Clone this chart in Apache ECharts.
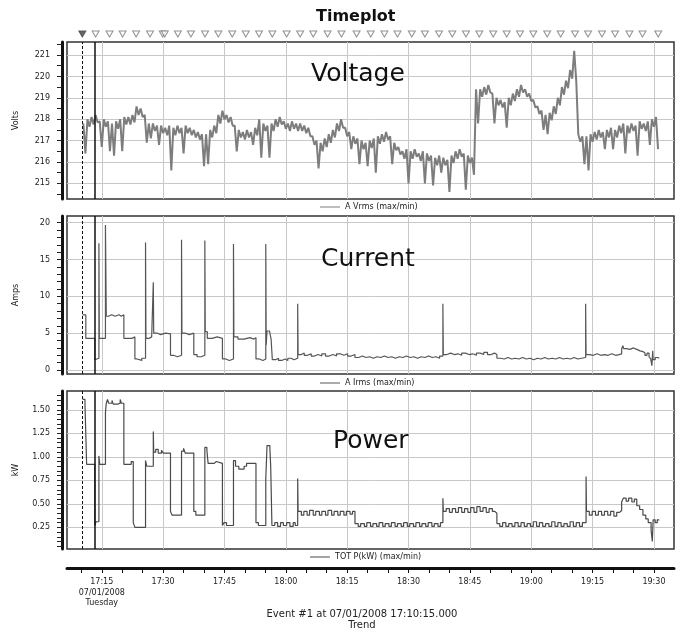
<!DOCTYPE html>
<html>
<head>
<meta charset="utf-8">
<title>Timeplot</title>
<script src="https://cdn.jsdelivr.net/npm/echarts@6.0.0/dist/echarts.min.js"></script>
<style>
html, body { margin: 0; padding: 0; background: #fff; }
#chart { width: 680px; height: 635px; }
</style>
</head>
<body>
<div id="chart"></div>
<script>
// time is in minutes after 17:00
var X_RANGE = [6.5, 154.9];
var X_MINOR = [10,15,20,25,30,35,40,45,50,55,60,65,70,75,80,85,90,95,100,105,110,115,120,125,130,135,140,145,150];
var X_MAJOR = [15,30,45,60,75,90,105,120,135,150];
var X_LABELS = ['17:15\n07/01/2008\nTuesday','17:30','17:45','18:00','18:15','18:30','18:45','19:00','19:15','19:30'];

var VOLT_RANGE = [214.27, 221.61];
var VOLT_MINOR = [214.5,215,215.5,216,216.5,217,217.5,218,218.5,219,219.5,220,220.5,221,221.5];
var VOLT_MAJOR = [215,216,217,218,219,220,221];
var AMP_RANGE = [-0.54, 20.91];
var AMP_MINOR = [0,1,2,3,4,5,6,7,8,9,10,11,12,13,14,15,16,17,18,19,20];
var AMP_MAJOR = [0,5,10,15,20];
var KW_RANGE = [0.02, 1.70];
var KW_MINOR = [0.05,0.1,0.15,0.2,0.25,0.3,0.35,0.4,0.45,0.5,0.55,0.6,0.65,0.7,0.75,0.8,0.85,0.9,0.95,1,1.05,1.1,1.15,1.2,1.25,1.3,1.35,1.4,1.45,1.5,1.55,1.6,1.65];
var KW_MAJOR = [0.25,0.5,0.75,1,1.25,1.5];

// event marker (dashed) and cursor (solid)
var CURSORS = [10.25, 13.2];
// event triangles above the first panel
var MARKS = [10.25,13.5,16.9,20.1,23.4,26.8,29.9,30.4,33.6,36.8,40.25,43.5,46.9,50.2,53.45,56.7,60.2,63.5,66.7,70.2,73.6,77.3,80.75,84.1,87.3,90.8,94.0,97.45,100.7,104.05,107.3,110.7,114.0,117.25,120.5,123.9,127.2,130.7,133.9,137.3,140.5,144.0,147.2,151.05];

// voltage max / min per minute, starting at 10.5
var VOLT_T0 = 10.5;
var voltHi = [
217.8,218.0,218.1,218.2,217.9,218.0,217.9,217.8,217.9,218.0,
218.1,218.1,218.2,218.6,218.5,218.2,217.8,217.8,217.7,217.7,
217.6,217.7,217.6,217.7,217.6,217.7,217.6,217.5,217.4,217.3,
217.3,217.5,217.7,218.2,218.4,218.2,218.1,217.7,217.5,217.4,
217.5,217.4,217.6,218.0,217.8,217.7,217.8,218.0,218.1,217.9,
217.8,217.9,217.8,217.8,217.7,217.6,217.2,217.0,216.9,217.1,
217.3,217.5,217.8,218.0,217.6,217.4,217.2,217.1,217.0,216.9,
217.0,217.1,217.2,217.3,217.4,217.2,216.9,216.7,216.5,216.6,
216.5,216.6,216.4,216.5,216.4,216.3,216.2,216.3,216.2,216.1,
216.3,216.5,216.6,216.4,216.3,216.2,219.4,219.4,219.5,219.6,
219.2,219.0,218.9,218.8,219.0,219.2,219.4,219.6,219.4,219.2,
218.9,218.6,218.4,218.2,218.3,218.6,219.0,219.5,219.8,220.3,
221.2,217.3,217.2,217.2,217.3,217.4,217.5,217.4,217.5,217.6,
217.5,217.7,217.8,217.7,217.8,217.7,217.9,217.8,217.9,218.0,
218.1];
var voltLo = [
216.4,217.65,217.75,217.85,216.7,217.65,216.5,216.3,217.55,216.5,
217.75,217.75,217.85,218.2,218.1,216.9,217.1,217.45,216.8,217.35,
217.25,215.6,217.25,217.35,216.4,217.35,217.25,217.15,217.05,215.8,
215.9,217.15,217.35,217.8,218.0,217.85,217.7,216.5,217.15,217.05,
217.15,216.8,217.25,216.2,217.45,216.2,217.45,217.65,217.75,217.55,
217.45,217.55,217.45,217.45,217.35,217.2,216.8,215.7,216.5,216.7,
216.9,217.15,217.45,217.6,217.2,216.6,216.85,215.9,216.6,215.8,
216.65,215.5,216.85,216.95,217.05,215.9,216.55,216.35,216.15,215.0,
216.15,216.25,216.05,215.0,216.05,214.9,215.85,215.5,215.85,214.6,
215.95,216.15,216.25,214.7,215.95,215.4,217.8,219.05,219.15,219.25,
217.8,218.65,218.55,217.6,218.65,218.85,219.05,219.25,219.05,218.85,
218.55,218.25,217.5,217.3,217.95,218.25,218.65,219.15,219.45,219.9,
219.8,216.95,215.9,215.6,216.95,217.05,217.15,216.6,217.15,216.6,
217.15,217.35,216.4,217.35,217.45,216.3,217.55,217.45,216.8,217.65,
216.6];

// current, [minute, amps], each value held until the next point
var currData = [
[10.3,7.5],[11.1,4.3],[13.3,1.4],[13.7,1.6],[14.3,17.2],[14.4,4.3],[15.9,19.7],[16.1,7.3],[16.6,7.5],[17.4,7.3],[18.3,7.5],[19.2,7.3],[19.8,7.5],
[20.4,4.3],[22.4,4.5],[23.1,1.5],[23.6,1.3],[24.8,1.6],
[25.7,17.3],[25.8,4.3],[26.6,4.5],[27.2,4.3],
[27.6,11.9],[27.7,5.0],[28.6,4.8],[29.4,5.0],[30.6,4.9],
[31.8,2.0],[32.5,1.8],[33.5,2.0],
[34.5,17.7],[34.6,5.0],[35.5,4.8],[36.4,5.0],
[37.5,2.1],[38.3,1.8],[39.3,2.0],
[40.2,17.6],[40.3,5.2],[40.8,4.3],[42.0,4.5],[43.2,4.3],
[44.5,1.5],[45.3,1.3],[46.2,1.5],
[47.2,17.1],[47.3,4.5],[48.3,4.2],[49.8,4.4],[51.2,4.2],[52.2,4.4],
[52.7,1.5],[53.5,1.3],[54.4,1.5],
[55.1,17.1],[55.2,3.4],[55.4,5.3],[56.0,5.1],[56.4,4.2],
[56.7,1.4],[57.5,1.6],[58.2,1.3],[59.0,1.5],[59.8,1.3],[60.5,1.6],[61.3,1.4],[62.0,1.3],[62.4,1.6],
[62.9,9.0],[63.0,2.1],[63.8,2.3],[64.5,2.0],[65.3,2.2],[66.2,1.9],[67.0,2.1],[67.9,1.9],[68.8,2.2],[69.7,1.9],[70.6,2.1],[71.5,1.9],[72.4,2.2],[73.3,2.0],[74.2,2.2],[75.1,1.9],[76.0,2.1],
[76.9,1.7],[77.8,1.9],[78.7,1.7],[79.6,1.8],[80.5,1.6],[81.4,1.8],[82.3,1.7],[83.2,1.9],[84.1,1.7],[85.0,1.8],[85.9,1.6],[86.8,1.8],[87.7,1.7],[88.6,1.9],[89.5,1.7],[90.4,1.8],[91.3,1.6],[92.2,1.8],[93.1,1.7],[94.0,1.9],[94.9,1.7],[95.8,1.8],[96.7,1.6],[97.6,1.9],
[98.4,9.0],[98.5,2.1],[99.4,2.3],[100.3,2.1],[101.2,2.2],[102.1,2.0],[103.0,2.3],[103.9,2.1],[104.8,2.2],[105.7,2.0],[106.6,2.3],[107.5,2.1],[108.4,2.4],[109.3,2.1],[110.2,2.3],[111.0,2.1],
[111.6,1.6],[112.5,1.5],[113.4,1.7],[114.3,1.5],[115.2,1.6],[116.1,1.5],[117.0,1.7],[117.9,1.5],[118.8,1.6],[119.7,1.4],[120.6,1.6],[121.5,1.5],[122.4,1.7],[123.3,1.5],[124.2,1.6],[125.1,1.5],[126.0,1.7],[126.9,1.5],[127.8,1.6],[128.7,1.5],[129.6,1.7],[130.5,1.5],[131.4,1.6],[132.3,1.7],
[133.3,9.0],[133.4,2.1],[134.3,2.0],[135.2,2.2],[136.1,2.0],[137.0,2.1],[137.9,2.0],[138.8,2.2],[139.7,2.0],[140.6,2.1],[141.5,2.2],
[142.1,2.9],[142.4,3.3],[142.6,2.9],[143.3,2.8],[144.1,3.0],[145.0,2.8],[145.8,2.6],[146.6,2.5],[147.3,2.3],[147.8,2.0],[148.3,2.3],[148.8,1.8],[149.2,1.5],[149.5,0.6],[149.7,2.6],[149.8,1.4],[150.3,1.7],[150.9,1.6],[151.3,1.7]
];

// power, [minute, kW], each value held until the next point
var powData = [
[10.3,1.61],[10.9,1.55],[11.3,0.92],[13.3,0.27],[13.6,0.31],[14.3,1.01],[14.5,0.92],
[15.9,1.47],[16.1,1.57],[16.4,1.61],[16.7,1.57],[17.5,1.60],[17.8,1.56],[18.9,1.57],[19.5,1.61],[19.8,1.57],
[20.4,0.92],[22.2,0.95],[22.7,0.30],[23.1,0.25],
[25.7,0.96],[26.0,0.90],
[27.6,1.27],[27.7,1.05],[28.2,1.08],[28.8,1.04],[29.6,1.07],[30.0,1.04],
[31.8,0.42],[32.2,0.38],
[34.5,1.06],[35.0,1.09],[35.4,1.04],
[37.5,0.42],[38.0,0.38],
[40.2,1.10],[40.7,1.07],[41.0,0.93],[42.5,0.95],[43.0,0.93],
[44.5,0.27],[44.9,0.30],[45.5,0.27],
[47.2,0.96],[47.7,0.90],[48.5,0.87],[49.8,0.90],[50.4,0.93],
[52.7,0.30],[53.3,0.27],
[55.1,0.77],[55.4,1.12],[56.1,1.09],[56.3,0.90],
[56.6,0.27],[57.3,0.30],[58.0,0.26],[58.7,0.30],[59.4,0.27],[60.2,0.30],[61.0,0.26],[61.8,0.30],[62.3,0.27],
[62.9,0.77],[63.0,0.42],[63.8,0.38],[64.4,0.42],[65.2,0.38],[65.8,0.43],[66.7,0.38],[67.3,0.42],[68.2,0.38],[68.8,0.42],[69.7,0.38],[70.3,0.43],[71.2,0.38],[71.8,0.42],[72.7,0.38],[73.3,0.42],[74.2,0.38],[74.8,0.42],[75.7,0.39],[76.3,0.42],
[76.9,0.29],[77.7,0.26],[78.3,0.29],[79.2,0.26],[79.8,0.30],[80.7,0.26],[81.3,0.29],[82.2,0.26],[82.8,0.30],[83.7,0.26],[84.3,0.29],[85.2,0.26],[85.8,0.30],[86.7,0.26],[87.3,0.29],[88.2,0.26],[88.8,0.30],[89.7,0.26],[90.3,0.29],[91.2,0.26],[91.8,0.30],[92.7,0.26],[93.3,0.29],[94.2,0.26],[94.8,0.30],[95.7,0.26],[96.3,0.29],[97.2,0.26],[97.8,0.30],
[98.4,0.56],[98.5,0.42],[99.2,0.45],[100.0,0.41],[100.7,0.45],[101.5,0.41],[102.2,0.46],[103.0,0.41],[103.7,0.45],[104.5,0.41],[105.2,0.46],[106.0,0.41],[106.7,0.47],[107.5,0.42],[108.2,0.46],[109.0,0.41],[109.7,0.45],[110.5,0.42],[111.1,0.40],
[111.6,0.29],[112.3,0.26],[113.0,0.30],[113.8,0.26],[114.5,0.29],[115.3,0.26],[116.0,0.30],[116.8,0.26],[117.5,0.30],[118.3,0.26],[119.0,0.29],[119.8,0.26],[120.5,0.31],[121.3,0.26],[122.0,0.30],[122.8,0.26],[123.5,0.29],[124.3,0.26],[125.0,0.31],[125.8,0.26],[126.5,0.30],[127.3,0.26],[128.0,0.29],[128.8,0.26],[129.5,0.31],[130.3,0.26],[131.0,0.30],[131.8,0.26],[132.5,0.30],
[133.4,0.79],[133.5,0.42],[134.2,0.38],[134.9,0.42],[135.7,0.38],[136.4,0.42],[137.2,0.38],[137.9,0.42],[138.7,0.38],[139.4,0.42],[140.2,0.37],[140.9,0.41],[141.6,0.43],
[142.1,0.52],[142.5,0.56],[143.2,0.53],[143.8,0.56],[144.6,0.52],[145.2,0.55],[145.8,0.48],[146.5,0.44],[147.3,0.38],[148.0,0.34],[148.6,0.30],[149.3,0.22],[149.6,0.10],[149.8,0.33],[150.3,0.30],[150.8,0.33],[151.3,0.33]
];

var FONT = 'DejaVu Sans';
var GRIDLINE = { color: '#c8c8c8', width: 1 };

// max at the minute, min half a minute later
var voltData = [];
voltHi.forEach(function(v, i) {
    voltData.push([VOLT_T0 + i, v]);
    voltData.push([VOLT_T0 + i + 0.5, voltLo[i]]);
});

function hiddenX(grid, lines, pos) {
    return {
        type: 'value', gridIndex: grid, position: pos, min: X_RANGE[0], max: X_RANGE[1],
        axisLine: { show: false },
        axisTick: { show: false, customValues: X_MAJOR },
        axisLabel: { show: false },
        splitLine: { show: lines, lineStyle: GRIDLINE }
    };
}

function yAxes(grid, range, minor, major, name, fmt) {
    return [{
        type: 'value', gridIndex: grid, position: 'left', min: range[0], max: range[1], offset: 5,
        name: name, nameLocation: 'middle', nameGap: 42,
        nameTextStyle: { fontSize: 8, fontFamily: FONT, color: '#222' },
        axisLine: { show: true, lineStyle: { color: '#111', width: 3 } },
        axisTick: { show: true, customValues: minor, length: 5, lineStyle: { color: '#222', width: 1 } },
        axisLabel: { show: true, customValues: major, margin: 12, fontSize: 8, fontFamily: FONT, color: '#222', formatter: fmt },
        splitLine: { show: false }
    }, {
        // grid lines only
        type: 'value', gridIndex: grid, position: 'right', min: range[0], max: range[1],
        axisLine: { show: false },
        axisTick: { show: false, customValues: major },
        axisLabel: { show: false },
        splitLine: { show: true, lineStyle: GRIDLINE }
    }];
}

function cursorLines() {
    return {
        silent: true, symbol: ['none', 'none'], label: { show: false }, animation: false,
        data: [
            { xAxis: CURSORS[0], lineStyle: { color: '#111', type: [3, 2], width: 1 } },
            { xAxis: CURSORS[1], lineStyle: { color: '#111', type: 'solid', width: 1.5 } }
        ]
    };
}

function legendAt(name, left, top) {
    return {
        data: [name], left: left, top: top, padding: 0, selectedMode: false,
        icon: 'rect', itemWidth: 20, itemHeight: 1, itemGap: 4,
        textStyle: { fontSize: 8, fontFamily: FONT, color: '#222' }
    };
}

var panelText = { fontFamily: FONT, fontSize: 25, fontWeight: 'normal', color: '#111' };

var myChart = echarts.init(document.getElementById('chart'));

myChart.setOption({
    animation: false,
    backgroundColor: '#fff',
    title: [
        { text: 'Timeplot', left: 316, top: 9, padding: 0,
          textStyle: { fontFamily: FONT, fontSize: 16, fontWeight: 'bold', color: '#111' } },
        { text: 'Voltage', left: 311, top: 62, padding: 0, textStyle: panelText },
        { text: 'Current', left: 321, top: 247, padding: 0, textStyle: panelText },
        { text: 'Power', left: 333, top: 429, padding: 0, textStyle: panelText },
        { text: 'Event #1 at 07/01/2008 17:10:15.000\nTrend', left: 362, top: 609, padding: 0, textAlign: 'center',
          textStyle: { fontFamily: FONT, fontSize: 10, fontWeight: 'normal', color: '#222', lineHeight: 11 } }
    ],
    legend: [
        legendAt('A Vrms (max/min)', 320, 203),
        legendAt('A Irms (max/min)', 320, 379),
        legendAt('TOT P(kW) (max/min)', 310, 553)
    ],
    grid: [
        { left: 67, right: 6, top: 42, height: 157, show: true, borderColor: '#333', borderWidth: 1.5, outerBoundsMode: 'none' },
        { left: 67, right: 6, top: 216, height: 158, show: true, borderColor: '#333', borderWidth: 1.5, outerBoundsMode: 'none' },
        { left: 67, right: 6, top: 391, height: 158, show: true, borderColor: '#333', borderWidth: 1.5, outerBoundsMode: 'none' },
        { left: 67, right: 6, top: 29, height: 10, show: false, outerBoundsMode: 'none' }
    ],
    xAxis: [
        hiddenX(0, true, 'bottom'),
        hiddenX(1, true, 'bottom'),
        hiddenX(2, true, 'top'),
        {
            type: 'value', gridIndex: 2, position: 'bottom', min: X_RANGE[0], max: X_RANGE[1], offset: 19,
            axisLine: { show: true, lineStyle: { color: '#111', width: 3 } },
            axisTick: { show: true, customValues: X_MINOR, length: 5, lineStyle: { color: '#111', width: 1 } },
            axisLabel: {
                show: true, customValues: X_MAJOR, margin: 9, fontSize: 8, fontFamily: FONT, color: '#222', lineHeight: 10.5,
                formatter: function(v) { return X_LABELS[X_MAJOR.indexOf(v)]; }
            },
            splitLine: { show: false }
        },
        hiddenX(3, false, 'bottom')
    ],
    yAxis: [].concat(
        yAxes(0, VOLT_RANGE, VOLT_MINOR, VOLT_MAJOR, 'Volts', function(v) { return String(v); }),
        yAxes(1, AMP_RANGE, AMP_MINOR, AMP_MAJOR, 'Amps', function(v) { return String(v); }),
        yAxes(2, KW_RANGE, KW_MINOR, KW_MAJOR, 'kW', function(v) { return v.toFixed(2); }),
        [{ type: 'value', gridIndex: 3, min: -1, max: 1, show: false }]
    ),
    series: [
        {
            name: 'A Vrms (max/min)', type: 'line', xAxisIndex: 0, yAxisIndex: 0,
            data: voltData, symbol: 'none', color: '#7d7d7d',
            lineStyle: { color: '#7d7d7d', width: 2 },
            markLine: cursorLines()
        },
        {
            name: 'A Irms (max/min)', type: 'line', xAxisIndex: 1, yAxisIndex: 2,
            data: currData, step: 'end', symbol: 'none', color: '#555',
            lineStyle: { color: '#555', width: 1.2 },
            markLine: cursorLines()
        },
        {
            name: 'TOT P(kW) (max/min)', type: 'line', xAxisIndex: 3, yAxisIndex: 4,
            data: powData, step: 'end', symbol: 'none', color: '#4a4a4a',
            lineStyle: { color: '#4a4a4a', width: 1.2 },
            markLine: cursorLines()
        },
        {
            name: 'events', type: 'scatter', xAxisIndex: 4, yAxisIndex: 6, clip: false,
            symbol: 'triangle', symbolRotate: 180, symbolSize: [7, 6],
            itemStyle: { color: '#fff', borderColor: '#777', borderWidth: 1 },
            data: MARKS.map(function(t, i) {
                return i === 0
                    ? { value: [t, 0], itemStyle: { color: '#444', borderColor: '#444' } }
                    : { value: [t, 0] };
            })
        }
    ]
});
</script>
</body>
</html>
